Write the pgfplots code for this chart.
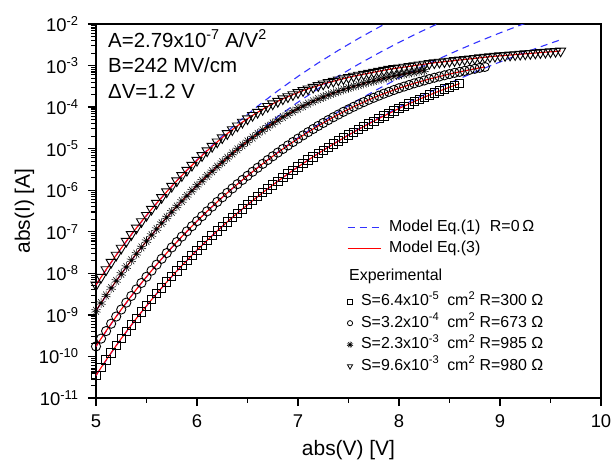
\documentclass[border=0pt]{standalone}
\usepackage{fontspec}
\setmainfont{Liberation Sans}
\usepackage{pgfplots}
\pgfplotsset{compat=1.18}
\usepackage{pgfplotstable}
\usetikzlibrary{plotmarks}
\definecolor{dblue}{RGB}{50,50,255}
\definecolor{mred}{RGB}{255,0,0}

% log10 of current
\pgfplotstableread{
V L
5.00 -10.457
5.05 -10.270
5.10 -10.088
5.15 -9.911
5.20 -9.738
5.25 -9.569
5.30 -9.404
5.35 -9.243
5.40 -9.085
5.45 -8.931
5.50 -8.781
5.55 -8.634
5.60 -8.490
5.65 -8.349
5.70 -8.211
5.75 -8.076
5.80 -7.945
5.85 -7.815
5.90 -7.689
5.95 -7.565
6.00 -7.443
6.05 -7.324
6.10 -7.207
6.15 -7.093
6.20 -6.980
6.25 -6.870
6.30 -6.762
6.35 -6.656
6.40 -6.552
6.45 -6.450
6.50 -6.349
6.55 -6.251
6.60 -6.154
6.65 -6.059
6.70 -5.965
6.75 -5.874
6.80 -5.783
6.85 -5.695
6.90 -5.607
6.95 -5.522
7.00 -5.439
7.05 -5.356
7.10 -5.276
7.15 -5.195
7.20 -5.117
7.25 -5.039
7.30 -4.964
7.35 -4.889
7.40 -4.816
7.45 -4.744
7.50 -4.673
7.55 -4.604
7.60 -4.535
7.65 -4.469
7.70 -4.403
7.75 -4.338
7.80 -4.275
7.85 -4.213
7.90 -4.152
7.95 -4.092
8.00 -4.034
8.05 -3.977
8.10 -3.921
8.15 -3.866
8.20 -3.814
8.25 -3.761
8.30 -3.711
8.35 -3.661
8.40 -3.613
8.45 -3.567
8.50 -3.520
8.55 -3.477
8.60 -3.433
}\sone

\pgfplotstableread{
V L
5.00 -9.758
5.05 -9.571
5.10 -9.389
5.15 -9.212
5.20 -9.039
5.25 -8.870
5.30 -8.705
5.35 -8.544
5.40 -8.386
5.45 -8.232
5.50 -8.082
5.55 -7.935
5.60 -7.791
5.65 -7.650
5.70 -7.512
5.75 -7.377
5.80 -7.246
5.85 -7.116
5.90 -6.990
5.95 -6.866
6.00 -6.744
6.05 -6.625
6.10 -6.508
6.15 -6.394
6.20 -6.281
6.25 -6.171
6.30 -6.063
6.35 -5.957
6.40 -5.854
6.45 -5.752
6.50 -5.653
6.55 -5.556
6.60 -5.460
6.65 -5.366
6.70 -5.273
6.75 -5.183
6.80 -5.094
6.85 -5.008
6.90 -4.922
6.95 -4.840
7.00 -4.758
7.05 -4.680
7.10 -4.602
7.15 -4.526
7.20 -4.452
7.25 -4.381
7.30 -4.311
7.35 -4.243
7.40 -4.178
7.45 -4.113
7.50 -4.053
7.55 -3.992
7.60 -3.935
7.65 -3.880
7.70 -3.825
7.75 -3.775
7.80 -3.725
7.85 -3.677
7.90 -3.633
7.95 -3.588
8.00 -3.545
8.05 -3.506
8.10 -3.467
8.15 -3.428
8.20 -3.393
8.25 -3.359
8.30 -3.325
8.35 -3.293
8.40 -3.264
8.45 -3.234
8.50 -3.205
8.55 -3.176
8.60 -3.152
8.65 -3.127
8.70 -3.102
8.75 -3.078
8.80 -3.054
8.85 -3.033
}\stwo

\pgfplotstableread{
V L
5.00 -8.901
5.05 -8.714
5.10 -8.532
5.15 -8.355
5.20 -8.182
5.25 -8.013
5.30 -7.848
5.35 -7.686
5.40 -7.529
5.45 -7.375
5.50 -7.225
5.55 -7.078
5.60 -6.934
5.65 -6.793
5.70 -6.655
5.75 -6.520
5.80 -6.390
5.85 -6.260
5.90 -6.135
5.95 -6.011
6.00 -5.890
6.05 -5.772
6.10 -5.656
6.15 -5.543
6.20 -5.432
6.25 -5.326
6.30 -5.219
6.35 -5.117
6.40 -5.016
6.45 -4.919
6.50 -4.824
6.55 -4.732
6.60 -4.643
6.65 -4.556
6.70 -4.473
6.75 -4.392
6.80 -4.316
6.85 -4.240
6.90 -4.171
6.95 -4.103
7.00 -4.036
7.05 -3.977
7.10 -3.917
7.15 -3.860
7.20 -3.809
7.25 -3.757
7.30 -3.707
7.35 -3.664
7.40 -3.621
7.45 -3.577
7.50 -3.538
7.55 -3.502
7.60 -3.467
7.65 -3.431
7.70 -3.397
7.75 -3.368
7.80 -3.339
7.85 -3.310
7.90 -3.282
7.95 -3.253
8.00 -3.230
8.05 -3.207
8.10 -3.185
8.15 -3.162
8.20 -3.139
8.25 -3.116
}\sthree

\pgfplotstableread{
V L
5.00 -8.281
5.05 -8.094
5.10 -7.912
5.15 -7.735
5.20 -7.562
5.25 -7.393
5.30 -7.228
5.35 -7.067
5.40 -6.909
5.45 -6.755
5.50 -6.605
5.55 -6.458
5.60 -6.315
5.65 -6.175
5.70 -6.038
5.75 -5.904
5.80 -5.773
5.85 -5.647
5.90 -5.520
5.95 -5.400
6.00 -5.280
6.05 -5.166
6.10 -5.052
6.15 -4.944
6.20 -4.837
6.25 -4.736
6.30 -4.637
6.35 -4.542
6.40 -4.451
6.45 -4.362
6.50 -4.280
6.55 -4.199
6.60 -4.125
6.65 -4.054
6.70 -3.983
6.75 -3.921
6.80 -3.861
6.85 -3.800
6.90 -3.749
6.95 -3.699
7.00 -3.649
7.05 -3.601
7.10 -3.561
7.15 -3.521
7.20 -3.482
7.25 -3.442
7.30 -3.408
7.35 -3.377
7.40 -3.346
7.45 -3.315
7.50 -3.284
7.55 -3.255
7.60 -3.231
7.65 -3.208
7.70 -3.184
7.75 -3.160
7.80 -3.137
7.85 -3.113
7.90 -3.091
7.95 -3.073
8.00 -3.056
8.05 -3.038
8.10 -3.020
8.15 -3.002
8.20 -2.984
8.25 -2.967
8.30 -2.949
8.35 -2.933
8.40 -2.919
8.45 -2.906
8.50 -2.893
8.55 -2.880
8.60 -2.866
8.65 -2.853
8.70 -2.840
8.75 -2.827
8.80 -2.814
8.85 -2.800
8.90 -2.787
8.95 -2.776
9.00 -2.766
9.05 -2.757
9.10 -2.747
9.15 -2.737
9.20 -2.727
9.25 -2.717
9.30 -2.708
9.35 -2.698
9.40 -2.688
9.45 -2.678
9.50 -2.669
9.55 -2.659
9.60 -2.649
}\sfour

% Model Eq.(1), R = 0
\pgfplotstableread{
V L
5.0 -10.457
5.2 -9.738
5.4 -9.085
5.6 -8.490
5.8 -7.945
6.0 -7.443
6.2 -6.981
6.4 -6.552
6.6 -6.154
6.8 -5.783
7.0 -5.437
7.2 -5.113
7.4 -4.809
7.6 -4.523
7.8 -4.254
8.0 -3.999
8.2 -3.758
8.4 -3.531
8.6 -3.314
8.8 -3.109
9.0 -2.913
9.2 -2.727
9.4 -2.549
9.6 -2.379
}\bone

\pgfplotstableread{
V L
5.0 -9.758
5.2 -9.039
5.4 -8.386
5.6 -7.791
5.8 -7.246
6.0 -6.744
6.2 -6.282
6.4 -5.853
6.6 -5.455
6.8 -5.084
7.0 -4.738
7.2 -4.414
7.4 -4.110
7.6 -3.824
7.8 -3.555
8.0 -3.300
8.2 -3.059
8.4 -2.832
8.6 -2.615
8.8 -2.410
9.0 -2.214
9.2 -2.028
9.4 -1.850
}\btwo

\pgfplotstableread{
V L
5.0 -8.901
5.2 -8.182
5.4 -7.529
5.6 -6.934
5.8 -6.389
6.0 -5.887
6.2 -5.425
6.4 -4.996
6.6 -4.598
6.8 -4.227
7.0 -3.881
7.2 -3.557
7.4 -3.253
7.6 -2.967
7.8 -2.698
8.0 -2.443
8.2 -2.202
8.4 -1.975
}\bthree

\pgfplotstableread{
V L
5.0 -8.281
5.2 -7.562
5.4 -6.909
5.6 -6.314
5.8 -5.769
6.0 -5.267
6.2 -4.805
6.4 -4.376
6.6 -3.978
6.8 -3.607
7.0 -3.261
7.2 -2.937
7.4 -2.633
7.6 -2.347
7.8 -2.078
8.0 -1.823
}\bfour

\pgfplotsset{
  mylegend/.style={
    legend style={anchor=north west, draw=none, fill=none, inner sep=0pt, outer sep=0pt,
      font=\fontsize{16}{18}\selectfont, row sep=#1, column sep=8bp,
      nodes={inner sep=0pt, text height=12bp, text depth=4bp}},
    legend cell align=left,
    legend image code/.code={\draw[mark repeat=2,mark phase=2,##1] plot coordinates {(0bp,0bp) (16.5bp,0bp) (33bp,0bp)};},
  },
}

\begin{document}
\begin{tikzpicture}
\useasboundingbox (-96bp,-64bp) rectangle (516bp,398bp);
\begin{axis}[
  at={(0,0)}, anchor=south west,
  scale only axis, width=505bp, height=374bp,
  xmin=5, xmax=10,
  ymode=log, ymin=1e-11, ymax=1e-2,
  axis line style={line width=1.5bp, black},
  tick align=outside, tick pos=left,
  major tick length=8bp, minor tick length=4.5bp,
  major tick style={line width=1.4bp, black},
  minor tick style={line width=1.1bp, black},
  xtick={5,6,7,8,9,10}, xticklabels={5,6,7,8,9,10},
  minor x tick num=1,
  ytick={1e-11,1e-10,1e-9,1e-8,1e-7,1e-6,1e-5,1e-4,1e-3,1e-2},
  yticklabels={10\textsuperscript{-11},10\textsuperscript{-10},10\textsuperscript{-9},10\textsuperscript{-8},10\textsuperscript{-7},10\textsuperscript{-6},10\textsuperscript{-5},10\textsuperscript{-4},10\textsuperscript{-3},10\textsuperscript{-2}},
  minor ytick={2e-11,3e-11,4e-11,5e-11,6e-11,7e-11,8e-11,9e-11,
               2e-10,3e-10,4e-10,5e-10,6e-10,7e-10,8e-10,9e-10,
               2e-9,3e-9,4e-9,5e-9,6e-9,7e-9,8e-9,9e-9,
               2e-8,3e-8,4e-8,5e-8,6e-8,7e-8,8e-8,9e-8,
               2e-7,3e-7,4e-7,5e-7,6e-7,7e-7,8e-7,9e-7,
               2e-6,3e-6,4e-6,5e-6,6e-6,7e-6,8e-6,9e-6,
               2e-5,3e-5,4e-5,5e-5,6e-5,7e-5,8e-5,9e-5,
               2e-4,3e-4,4e-4,5e-4,6e-4,7e-4,8e-4,9e-4,
               2e-3,3e-3,4e-3,5e-3,6e-3,7e-3,8e-3,9e-3},
  tick label style={font=\fontsize{18.5}{21}\selectfont, black},
  xticklabel style={yshift=-5bp},
  yticklabel style={xshift=-6bp},
  xlabel={abs(V) [V]}, ylabel={abs(I) [A]},
  label style={font=\fontsize{21}{24}\selectfont},
  xlabel style={at={(axis description cs:0.5,-0.155)}, anchor=base},
  ylabel style={at={(axis description cs:-0.1307,0.5)}, anchor=base},
  mylegend=5bp,
  legend style={at={(axis description cs:0.497,0.4767)}},
]
% experimental markers
\addplot[only marks, black, mark=square, mark size=4.2bp, mark options={line width=0.9bp}, forget plot]
  table[x=V, y expr={10^(\thisrow{L})}] {\sone};
\addplot[only marks, black, mark=o, mark size=4.6bp, mark options={line width=0.9bp}, forget plot]
  table[x=V, y expr={10^(\thisrow{L})}] {\stwo};
\addplot[only marks, black, mark=10-pointed star, mark size=4.8bp, mark options={line width=0.55bp}, forget plot]
  table[x=V, y expr={10^(\thisrow{L})}] {\sthree};
\addplot[only marks, black, mark=triangle, mark size=5.8bp, mark options={rotate=180, line width=0.9bp}, forget plot]
  table[x=V, y expr={10^(\thisrow{L})}] {\sfour};
% model Eq.(1)
\addplot[dblue, line width=1.1bp, dash pattern=on 7bp off 5bp, forget plot] table[x=V, y expr={10^(\thisrow{L})}] {\bone};
\addplot[dblue, line width=1.1bp, dash pattern=on 7bp off 5bp, forget plot] table[x=V, y expr={10^(\thisrow{L})}] {\btwo};
\addplot[dblue, line width=1.1bp, dash pattern=on 7bp off 5bp, forget plot] table[x=V, y expr={10^(\thisrow{L})}] {\bthree};
\addplot[dblue, line width=1.1bp, dash pattern=on 7bp off 5bp, forget plot] table[x=V, y expr={10^(\thisrow{L})}] {\bfour};
% model Eq.(3)
\addplot[mred, line width=1.1bp, forget plot] table[x=V, y expr={10^(\thisrow{L})}] {\sone};
\addplot[mred, line width=1.1bp, forget plot] table[x=V, y expr={10^(\thisrow{L})}] {\stwo};
\addplot[mred, line width=1.1bp, forget plot] table[x=V, y expr={10^(\thisrow{L})}] {\sthree};
\addplot[mred, line width=1.1bp, forget plot] table[x=V, y expr={10^(\thisrow{L})}] {\sfour};

\addlegendimage{dblue, draw=dblue, line width=1.2bp, dash pattern=on 7bp off 5bp}
\addlegendentry{Model Eq.(1)\hspace{0.6em}R=0\,Ω}
\addlegendimage{mred, draw=mred, line width=1.1bp}
\addlegendentry{Model Eq.(3)}

\node[anchor=base west, inner sep=0pt, font=\fontsize{20.5}{24}\selectfont] at (axis description cs:0.0238,0.9385) {A=2.79x10\textsuperscript{-7} A/V\textsuperscript{2}};
\node[anchor=base west, inner sep=0pt, font=\fontsize{20.5}{24}\selectfont] at (axis description cs:0.0238,0.869) {B=242 MV/cm};
\node[anchor=base west, inner sep=0pt, font=\fontsize{20.5}{24}\selectfont] at (axis description cs:0.0238,0.7995) {ΔV=1.2 V};
\node[anchor=base west, inner sep=0pt, font=\fontsize{16}{18}\selectfont] at (axis description cs:0.501,0.3136) {Experimental};
\end{axis}

% second (hidden) axis carrying the legend of the experimental series
\begin{axis}[
  at={(0,0)}, anchor=south west,
  scale only axis, width=505bp, height=374bp,
  xmin=5, xmax=10, ymin=0, ymax=1, hide axis,
  mylegend=5.5bp,
  legend style={at={(axis description cs:0.497,0.2789)}},
]
\addlegendimage{only marks, draw=black, mark=square, mark size=2.3bp, mark options={draw=black, line width=0.8bp}}
\addlegendentry{S=6.4x10\textsuperscript{-5}\hspace{0.5em}cm\textsuperscript{2} R=300 Ω}
\addlegendimage{only marks, draw=black, mark=o, mark size=2.6bp, mark options={draw=black, line width=0.8bp}}
\addlegendentry{S=3.2x10\textsuperscript{-4}\hspace{0.5em}cm\textsuperscript{2} R=673 Ω}
\addlegendimage{only marks, draw=black, mark=10-pointed star, mark size=3.2bp, mark options={draw=black, line width=0.5bp}}
\addlegendentry{S=2.3x10\textsuperscript{-3}\hspace{0.5em}cm\textsuperscript{2} R=985 Ω}
\addlegendimage{only marks, draw=black, mark=triangle, mark size=3bp, mark options={draw=black, rotate=180, line width=0.8bp}}
\addlegendentry{S=9.6x10\textsuperscript{-3}\hspace{0.5em}cm\textsuperscript{2} R=980 Ω}
\end{axis}
\end{tikzpicture}
\end{document}
